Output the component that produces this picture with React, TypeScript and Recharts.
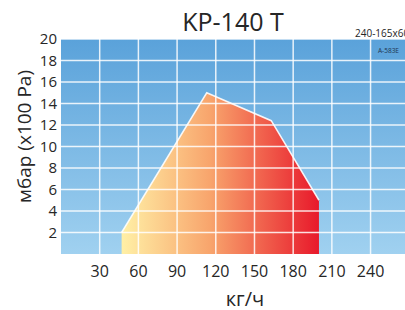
import React from "react";
import { AreaChart, Area, XAxis, YAxis, CartesianGrid, ReferenceLine, Label } from "recharts";

const flowKgH = [47, 113, 163, 200];
const pressureMbar = [2, 15, 12.4, 5];
const xTicks = [30, 60, 90, 120, 150, 180, 210, 240];
const yTicks = [2, 4, 6, 8, 10, 12, 14, 16, 18, 20];

const data = flowKgH.map((x, i) => ({ x, p: pressureMbar[i] }));

const FONT = "'Open Sans', 'Noto Sans', sans-serif";
const TEXT = "#262626";

export default function App() {
    return (
        <div style={{ position: "absolute", left: 0, top: 0, width: 405, height: 310, overflow: "hidden", background: "#fff" }}>
            <AreaChart
                width={405}
                height={310}
                data={data}
                margin={{ top: 39, right: 0, left: 0, bottom: 0 }}
            >
                <defs>
                    <linearGradient id="bgBlue" x1="0" y1="0" x2="0" y2="1">
                        <stop offset="0%" stopColor="#5AA2DA" />
                        <stop offset="100%" stopColor="#A0D1F0" />
                    </linearGradient>
                    <linearGradient id="heat" x1="0" y1="0" x2="1" y2="0">
                        <stop offset="0%" stopColor="#FFF0A6" />
                        <stop offset="45%" stopColor="#F8A46C" />
                        <stop offset="100%" stopColor="#E8192B" />
                    </linearGradient>
                </defs>
                <CartesianGrid fill="url(#bgBlue)" stroke="none" horizontal={false} vertical={false} />
                <XAxis
                    dataKey="x"
                    type="number"
                    domain={[0, 266.7]}
                    ticks={xTicks}
                    interval={0}
                    allowDataOverflow
                    axisLine={false}
                    tickLine={false}
                    tickSize={6}
                    tickMargin={6}
                    height={56}
                    tick={{ fill: TEXT, fontSize: 16, fontFamily: FONT }}
                >
                    <Label
                        content={({ viewBox }: any) => (
                            <text
                                x={viewBox.x + viewBox.width / 2 + 12}
                                y={306}
                                textAnchor="middle"
                                fill={TEXT}
                                fontSize={20}
                                fontFamily={FONT}
                            >
                                кг/ч
                            </text>
                        )}
                    />
                </XAxis>
                <YAxis
                    type="number"
                    domain={[0, 20]}
                    ticks={yTicks}
                    interval={0}
                    axisLine={false}
                    tickLine={false}
                    tickSize={2}
                    tickMargin={2}
                    width={61}
                    tick={{ fill: TEXT, fontSize: 15, fontFamily: FONT }}
                >
                    <Label
                        content={({ viewBox }: any) => {
                            const cx = 24;
                            const cy = viewBox.y + viewBox.height / 2 - 10;
                            return (
                                <text
                                    x={cx}
                                    y={cy}
                                    transform={`rotate(-90 ${cx} ${cy})`}
                                    textAnchor="middle"
                                    dominantBaseline="central"
                                    fill={TEXT}
                                    fontSize={19}
                                    fontFamily={FONT}
                                >
                                    мбар (x100 Pa)
                                </text>
                            );
                        }}
                    />
                </YAxis>
                <Area
                    type="linear"
                    dataKey="p"
                    stroke="#FFFFFF"
                    strokeOpacity={0.9}
                    strokeWidth={1.5}
                    fill="url(#heat)"
                    fillOpacity={1}
                    isAnimationActive={false}
                />
                {xTicks.map((t) => (
                    <ReferenceLine key={"vx" + t} x={t} stroke="#FFFFFF" strokeOpacity={0.85} strokeWidth={1.5} />
                ))}
                {yTicks.map((t) => (
                    <ReferenceLine key={"hy" + t} y={t} stroke="#FFFFFF" strokeOpacity={0.85} strokeWidth={1.5} />
                ))}
            </AreaChart>
            <svg width={405} height={310} style={{ position: "absolute", left: 0, top: 0, pointerEvents: "none" }}>
                <text x={233} y={30.5} textAnchor="middle" fill={TEXT} fontSize={25} fontFamily={FONT}>
                    KP-140 T
                </text>
                <text x={355} y={37} fill={TEXT} fontSize={10} fontFamily={FONT}>
                    240-165x60
                </text>
                <text x={378} y={52.5} fill="#1E3550" fontSize={6.5} fontFamily={FONT}>
                    A-583E
                </text>
            </svg>
        </div>
    );
}
